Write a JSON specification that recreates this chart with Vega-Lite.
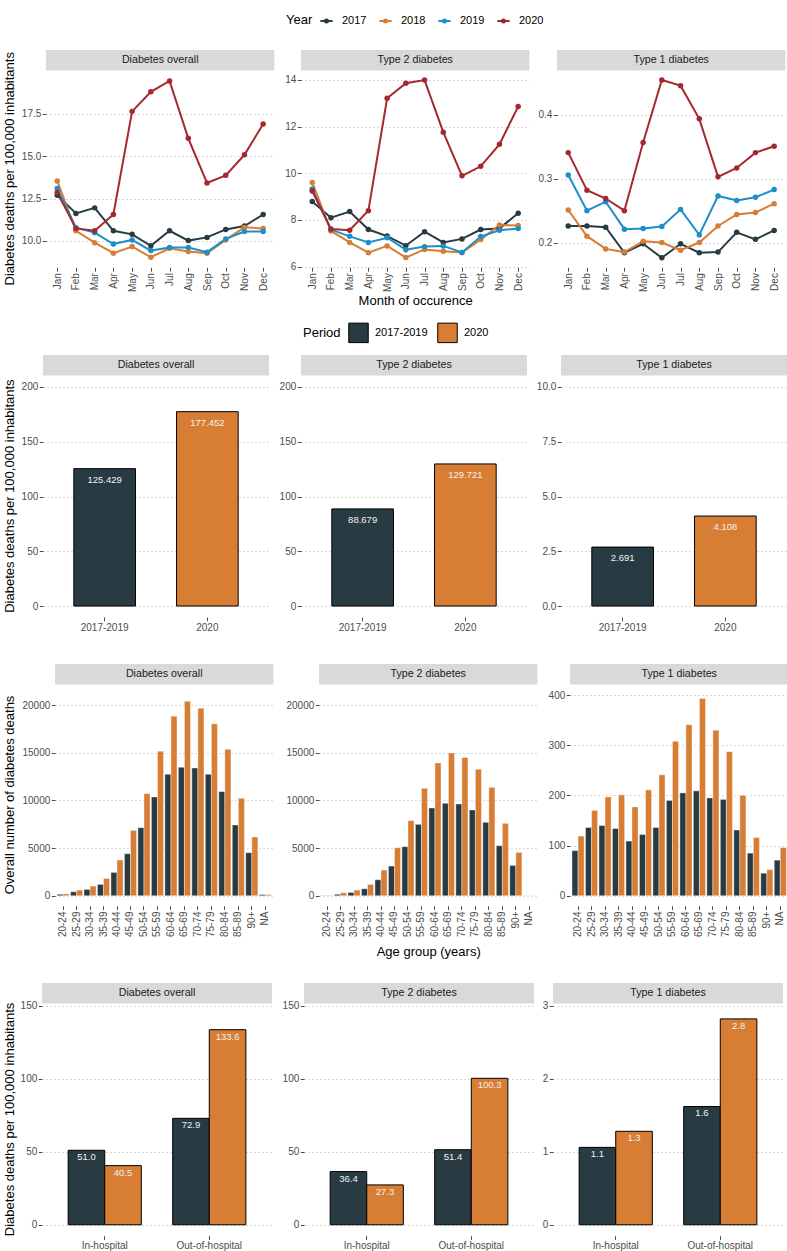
{
  "$schema": "https://vega.github.io/schema/vega-lite/v6.json",
  "background": "white",
  "padding": {"left": 3, "top": 13, "right": 0, "bottom": 0},
  "datasets": {
    "monthly": [
      {"Type":"Diabetes overall","Year":"2017","Month":"Jan","Rate":12.7},{"Type":"Diabetes overall","Year":"2017","Month":"Feb","Rate":11.62},{"Type":"Diabetes overall","Year":"2017","Month":"Mar","Rate":11.95},{"Type":"Diabetes overall","Year":"2017","Month":"Apr","Rate":10.6},{"Type":"Diabetes overall","Year":"2017","Month":"May","Rate":10.39},{"Type":"Diabetes overall","Year":"2017","Month":"Jun","Rate":9.71},{"Type":"Diabetes overall","Year":"2017","Month":"Jul","Rate":10.6},{"Type":"Diabetes overall","Year":"2017","Month":"Aug","Rate":10.02},{"Type":"Diabetes overall","Year":"2017","Month":"Sep","Rate":10.21},{"Type":"Diabetes overall","Year":"2017","Month":"Oct","Rate":10.68},{"Type":"Diabetes overall","Year":"2017","Month":"Nov","Rate":10.88},{"Type":"Diabetes overall","Year":"2017","Month":"Dec","Rate":11.56},
      {"Type":"Diabetes overall","Year":"2018","Month":"Jan","Rate":13.54},{"Type":"Diabetes overall","Year":"2018","Month":"Feb","Rate":10.6},{"Type":"Diabetes overall","Year":"2018","Month":"Mar","Rate":9.9},{"Type":"Diabetes overall","Year":"2018","Month":"Apr","Rate":9.28},{"Type":"Diabetes overall","Year":"2018","Month":"May","Rate":9.67},{"Type":"Diabetes overall","Year":"2018","Month":"Jun","Rate":9.04},{"Type":"Diabetes overall","Year":"2018","Month":"Jul","Rate":9.57},{"Type":"Diabetes overall","Year":"2018","Month":"Aug","Rate":9.38},{"Type":"Diabetes overall","Year":"2018","Month":"Sep","Rate":9.28},{"Type":"Diabetes overall","Year":"2018","Month":"Oct","Rate":10.06},{"Type":"Diabetes overall","Year":"2018","Month":"Nov","Rate":10.8},{"Type":"Diabetes overall","Year":"2018","Month":"Dec","Rate":10.74},
      {"Type":"Diabetes overall","Year":"2019","Month":"Jan","Rate":13.09},{"Type":"Diabetes overall","Year":"2019","Month":"Feb","Rate":10.78},{"Type":"Diabetes overall","Year":"2019","Month":"Mar","Rate":10.49},{"Type":"Diabetes overall","Year":"2019","Month":"Apr","Rate":9.82},{"Type":"Diabetes overall","Year":"2019","Month":"May","Rate":10.06},{"Type":"Diabetes overall","Year":"2019","Month":"Jun","Rate":9.43},{"Type":"Diabetes overall","Year":"2019","Month":"Jul","Rate":9.61},{"Type":"Diabetes overall","Year":"2019","Month":"Aug","Rate":9.61},{"Type":"Diabetes overall","Year":"2019","Month":"Sep","Rate":9.34},{"Type":"Diabetes overall","Year":"2019","Month":"Oct","Rate":10.12},{"Type":"Diabetes overall","Year":"2019","Month":"Nov","Rate":10.55},{"Type":"Diabetes overall","Year":"2019","Month":"Dec","Rate":10.55},
      {"Type":"Diabetes overall","Year":"2020","Month":"Jan","Rate":12.85},{"Type":"Diabetes overall","Year":"2020","Month":"Feb","Rate":10.74},{"Type":"Diabetes overall","Year":"2020","Month":"Mar","Rate":10.6},{"Type":"Diabetes overall","Year":"2020","Month":"Apr","Rate":11.56},{"Type":"Diabetes overall","Year":"2020","Month":"May","Rate":17.64},{"Type":"Diabetes overall","Year":"2020","Month":"Jun","Rate":18.79},{"Type":"Diabetes overall","Year":"2020","Month":"Jul","Rate":19.43},{"Type":"Diabetes overall","Year":"2020","Month":"Aug","Rate":16.05},{"Type":"Diabetes overall","Year":"2020","Month":"Sep","Rate":13.42},{"Type":"Diabetes overall","Year":"2020","Month":"Oct","Rate":13.87},{"Type":"Diabetes overall","Year":"2020","Month":"Nov","Rate":15.08},{"Type":"Diabetes overall","Year":"2020","Month":"Dec","Rate":16.89},
      {"Type":"Type 2 diabetes","Year":"2017","Month":"Jan","Rate":8.79},{"Type":"Type 2 diabetes","Year":"2017","Month":"Feb","Rate":8.1},{"Type":"Type 2 diabetes","Year":"2017","Month":"Mar","Rate":8.36},{"Type":"Type 2 diabetes","Year":"2017","Month":"Apr","Rate":7.59},{"Type":"Type 2 diabetes","Year":"2017","Month":"May","Rate":7.31},{"Type":"Type 2 diabetes","Year":"2017","Month":"Jun","Rate":6.9},{"Type":"Type 2 diabetes","Year":"2017","Month":"Jul","Rate":7.5},{"Type":"Type 2 diabetes","Year":"2017","Month":"Aug","Rate":7.04},{"Type":"Type 2 diabetes","Year":"2017","Month":"Sep","Rate":7.19},{"Type":"Type 2 diabetes","Year":"2017","Month":"Oct","Rate":7.59},{"Type":"Type 2 diabetes","Year":"2017","Month":"Nov","Rate":7.64},{"Type":"Type 2 diabetes","Year":"2017","Month":"Dec","Rate":8.29},
      {"Type":"Type 2 diabetes","Year":"2018","Month":"Jan","Rate":9.61},{"Type":"Type 2 diabetes","Year":"2018","Month":"Feb","Rate":7.53},{"Type":"Type 2 diabetes","Year":"2018","Month":"Mar","Rate":7.04},{"Type":"Type 2 diabetes","Year":"2018","Month":"Apr","Rate":6.6},{"Type":"Type 2 diabetes","Year":"2018","Month":"May","Rate":6.89},{"Type":"Type 2 diabetes","Year":"2018","Month":"Jun","Rate":6.39},{"Type":"Type 2 diabetes","Year":"2018","Month":"Jul","Rate":6.74},{"Type":"Type 2 diabetes","Year":"2018","Month":"Aug","Rate":6.66},{"Type":"Type 2 diabetes","Year":"2018","Month":"Sep","Rate":6.61},{"Type":"Type 2 diabetes","Year":"2018","Month":"Oct","Rate":7.16},{"Type":"Type 2 diabetes","Year":"2018","Month":"Nov","Rate":7.79},{"Type":"Type 2 diabetes","Year":"2018","Month":"Dec","Rate":7.76},
      {"Type":"Type 2 diabetes","Year":"2019","Month":"Jan","Rate":9.33},{"Type":"Type 2 diabetes","Year":"2019","Month":"Feb","Rate":7.59},{"Type":"Type 2 diabetes","Year":"2019","Month":"Mar","Rate":7.3},{"Type":"Type 2 diabetes","Year":"2019","Month":"Apr","Rate":7.04},{"Type":"Type 2 diabetes","Year":"2019","Month":"May","Rate":7.24},{"Type":"Type 2 diabetes","Year":"2019","Month":"Jun","Rate":6.73},{"Type":"Type 2 diabetes","Year":"2019","Month":"Jul","Rate":6.86},{"Type":"Type 2 diabetes","Year":"2019","Month":"Aug","Rate":6.89},{"Type":"Type 2 diabetes","Year":"2019","Month":"Sep","Rate":6.61},{"Type":"Type 2 diabetes","Year":"2019","Month":"Oct","Rate":7.29},{"Type":"Type 2 diabetes","Year":"2019","Month":"Nov","Rate":7.56},{"Type":"Type 2 diabetes","Year":"2019","Month":"Dec","Rate":7.64},
      {"Type":"Type 2 diabetes","Year":"2020","Month":"Jan","Rate":9.24},{"Type":"Type 2 diabetes","Year":"2020","Month":"Feb","Rate":7.61},{"Type":"Type 2 diabetes","Year":"2020","Month":"Mar","Rate":7.56},{"Type":"Type 2 diabetes","Year":"2020","Month":"Apr","Rate":8.4},{"Type":"Type 2 diabetes","Year":"2020","Month":"May","Rate":13.21},{"Type":"Type 2 diabetes","Year":"2020","Month":"Jun","Rate":13.86},{"Type":"Type 2 diabetes","Year":"2020","Month":"Jul","Rate":13.99},{"Type":"Type 2 diabetes","Year":"2020","Month":"Aug","Rate":11.76},{"Type":"Type 2 diabetes","Year":"2020","Month":"Sep","Rate":9.89},{"Type":"Type 2 diabetes","Year":"2020","Month":"Oct","Rate":10.3},{"Type":"Type 2 diabetes","Year":"2020","Month":"Nov","Rate":11.24},{"Type":"Type 2 diabetes","Year":"2020","Month":"Dec","Rate":12.86},
      {"Type":"Type 1 diabetes","Year":"2017","Month":"Jan","Rate":0.226},{"Type":"Type 1 diabetes","Year":"2017","Month":"Feb","Rate":0.226},{"Type":"Type 1 diabetes","Year":"2017","Month":"Mar","Rate":0.224},{"Type":"Type 1 diabetes","Year":"2017","Month":"Apr","Rate":0.184},{"Type":"Type 1 diabetes","Year":"2017","Month":"May","Rate":0.198},{"Type":"Type 1 diabetes","Year":"2017","Month":"Jun","Rate":0.176},{"Type":"Type 1 diabetes","Year":"2017","Month":"Jul","Rate":0.198},{"Type":"Type 1 diabetes","Year":"2017","Month":"Aug","Rate":0.184},{"Type":"Type 1 diabetes","Year":"2017","Month":"Sep","Rate":0.185},{"Type":"Type 1 diabetes","Year":"2017","Month":"Oct","Rate":0.216},{"Type":"Type 1 diabetes","Year":"2017","Month":"Nov","Rate":0.205},{"Type":"Type 1 diabetes","Year":"2017","Month":"Dec","Rate":0.219},
      {"Type":"Type 1 diabetes","Year":"2018","Month":"Jan","Rate":0.251},{"Type":"Type 1 diabetes","Year":"2018","Month":"Feb","Rate":0.21},{"Type":"Type 1 diabetes","Year":"2018","Month":"Mar","Rate":0.19},{"Type":"Type 1 diabetes","Year":"2018","Month":"Apr","Rate":0.185},{"Type":"Type 1 diabetes","Year":"2018","Month":"May","Rate":0.202},{"Type":"Type 1 diabetes","Year":"2018","Month":"Jun","Rate":0.2},{"Type":"Type 1 diabetes","Year":"2018","Month":"Jul","Rate":0.188},{"Type":"Type 1 diabetes","Year":"2018","Month":"Aug","Rate":0.2},{"Type":"Type 1 diabetes","Year":"2018","Month":"Sep","Rate":0.226},{"Type":"Type 1 diabetes","Year":"2018","Month":"Oct","Rate":0.244},{"Type":"Type 1 diabetes","Year":"2018","Month":"Nov","Rate":0.247},{"Type":"Type 1 diabetes","Year":"2018","Month":"Dec","Rate":0.261},
      {"Type":"Type 1 diabetes","Year":"2019","Month":"Jan","Rate":0.306},{"Type":"Type 1 diabetes","Year":"2019","Month":"Feb","Rate":0.25},{"Type":"Type 1 diabetes","Year":"2019","Month":"Mar","Rate":0.264},{"Type":"Type 1 diabetes","Year":"2019","Month":"Apr","Rate":0.221},{"Type":"Type 1 diabetes","Year":"2019","Month":"May","Rate":0.222},{"Type":"Type 1 diabetes","Year":"2019","Month":"Jun","Rate":0.225},{"Type":"Type 1 diabetes","Year":"2019","Month":"Jul","Rate":0.252},{"Type":"Type 1 diabetes","Year":"2019","Month":"Aug","Rate":0.212},{"Type":"Type 1 diabetes","Year":"2019","Month":"Sep","Rate":0.273},{"Type":"Type 1 diabetes","Year":"2019","Month":"Oct","Rate":0.266},{"Type":"Type 1 diabetes","Year":"2019","Month":"Nov","Rate":0.271},{"Type":"Type 1 diabetes","Year":"2019","Month":"Dec","Rate":0.283},
      {"Type":"Type 1 diabetes","Year":"2020","Month":"Jan","Rate":0.341},{"Type":"Type 1 diabetes","Year":"2020","Month":"Feb","Rate":0.282},{"Type":"Type 1 diabetes","Year":"2020","Month":"Mar","Rate":0.269},{"Type":"Type 1 diabetes","Year":"2020","Month":"Apr","Rate":0.25},{"Type":"Type 1 diabetes","Year":"2020","Month":"May","Rate":0.357},{"Type":"Type 1 diabetes","Year":"2020","Month":"Jun","Rate":0.455},{"Type":"Type 1 diabetes","Year":"2020","Month":"Jul","Rate":0.446},{"Type":"Type 1 diabetes","Year":"2020","Month":"Aug","Rate":0.394},{"Type":"Type 1 diabetes","Year":"2020","Month":"Sep","Rate":0.303},{"Type":"Type 1 diabetes","Year":"2020","Month":"Oct","Rate":0.317},{"Type":"Type 1 diabetes","Year":"2020","Month":"Nov","Rate":0.341},{"Type":"Type 1 diabetes","Year":"2020","Month":"Dec","Rate":0.351}
    ],
    "period": [
      {"Type":"Diabetes overall","Period":"2017-2019","Rate":125.429},{"Type":"Diabetes overall","Period":"2020","Rate":177.452},
      {"Type":"Type 2 diabetes","Period":"2017-2019","Rate":88.679},{"Type":"Type 2 diabetes","Period":"2020","Rate":129.721},
      {"Type":"Type 1 diabetes","Period":"2017-2019","Rate":2.691},{"Type":"Type 1 diabetes","Period":"2020","Rate":4.108}
    ],
    "age": [
      {"Type":"Diabetes overall","Period":"2017-2019","Age":"20-24","Deaths":150},{"Type":"Diabetes overall","Period":"2017-2019","Age":"25-29","Deaths":420},{"Type":"Diabetes overall","Period":"2017-2019","Age":"30-34","Deaths":665},{"Type":"Diabetes overall","Period":"2017-2019","Age":"35-39","Deaths":1190},{"Type":"Diabetes overall","Period":"2017-2019","Age":"40-44","Deaths":2450},{"Type":"Diabetes overall","Period":"2017-2019","Age":"45-49","Deaths":4410},{"Type":"Diabetes overall","Period":"2017-2019","Age":"50-54","Deaths":7140},{"Type":"Diabetes overall","Period":"2017-2019","Age":"55-59","Deaths":10360},{"Type":"Diabetes overall","Period":"2017-2019","Age":"60-64","Deaths":12740},{"Type":"Diabetes overall","Period":"2017-2019","Age":"65-69","Deaths":13475},{"Type":"Diabetes overall","Period":"2017-2019","Age":"70-74","Deaths":13405},{"Type":"Diabetes overall","Period":"2017-2019","Age":"75-79","Deaths":12740},{"Type":"Diabetes overall","Period":"2017-2019","Age":"80-84","Deaths":10920},{"Type":"Diabetes overall","Period":"2017-2019","Age":"85-89","Deaths":7420},{"Type":"Diabetes overall","Period":"2017-2019","Age":"90+","Deaths":4515},{"Type":"Diabetes overall","Period":"2017-2019","Age":"NA","Deaths":120},
      {"Type":"Diabetes overall","Period":"2020","Age":"20-24","Deaths":200},{"Type":"Diabetes overall","Period":"2020","Age":"25-29","Deaths":595},{"Type":"Diabetes overall","Period":"2020","Age":"30-34","Deaths":1015},{"Type":"Diabetes overall","Period":"2020","Age":"35-39","Deaths":1820},{"Type":"Diabetes overall","Period":"2020","Age":"40-44","Deaths":3745},{"Type":"Diabetes overall","Period":"2020","Age":"45-49","Deaths":6860},{"Type":"Diabetes overall","Period":"2020","Age":"50-54","Deaths":10710},{"Type":"Diabetes overall","Period":"2020","Age":"55-59","Deaths":15155},{"Type":"Diabetes overall","Period":"2020","Age":"60-64","Deaths":18830},{"Type":"Diabetes overall","Period":"2020","Age":"65-69","Deaths":20405},{"Type":"Diabetes overall","Period":"2020","Age":"70-74","Deaths":19670},{"Type":"Diabetes overall","Period":"2020","Age":"75-79","Deaths":18025},{"Type":"Diabetes overall","Period":"2020","Age":"80-84","Deaths":15365},{"Type":"Diabetes overall","Period":"2020","Age":"85-89","Deaths":10220},{"Type":"Diabetes overall","Period":"2020","Age":"90+","Deaths":6160},{"Type":"Diabetes overall","Period":"2020","Age":"NA","Deaths":130},
      {"Type":"Type 2 diabetes","Period":"2017-2019","Age":"20-24","Deaths":30},{"Type":"Type 2 diabetes","Period":"2017-2019","Age":"25-29","Deaths":150},{"Type":"Type 2 diabetes","Period":"2017-2019","Age":"30-34","Deaths":350},{"Type":"Type 2 diabetes","Period":"2017-2019","Age":"35-39","Deaths":735},{"Type":"Type 2 diabetes","Period":"2017-2019","Age":"40-44","Deaths":1680},{"Type":"Type 2 diabetes","Period":"2017-2019","Age":"45-49","Deaths":3115},{"Type":"Type 2 diabetes","Period":"2017-2019","Age":"50-54","Deaths":5145},{"Type":"Type 2 diabetes","Period":"2017-2019","Age":"55-59","Deaths":7490},{"Type":"Type 2 diabetes","Period":"2017-2019","Age":"60-64","Deaths":9205},{"Type":"Type 2 diabetes","Period":"2017-2019","Age":"65-69","Deaths":9695},{"Type":"Type 2 diabetes","Period":"2017-2019","Age":"70-74","Deaths":9625},{"Type":"Type 2 diabetes","Period":"2017-2019","Age":"75-79","Deaths":8995},{"Type":"Type 2 diabetes","Period":"2017-2019","Age":"80-84","Deaths":7700},{"Type":"Type 2 diabetes","Period":"2017-2019","Age":"85-89","Deaths":5250},{"Type":"Type 2 diabetes","Period":"2017-2019","Age":"90+","Deaths":3185},{"Type":"Type 2 diabetes","Period":"2017-2019","Age":"NA","Deaths":10},
      {"Type":"Type 2 diabetes","Period":"2020","Age":"20-24","Deaths":50},{"Type":"Type 2 diabetes","Period":"2020","Age":"25-29","Deaths":315},{"Type":"Type 2 diabetes","Period":"2020","Age":"30-34","Deaths":595},{"Type":"Type 2 diabetes","Period":"2020","Age":"35-39","Deaths":1190},{"Type":"Type 2 diabetes","Period":"2020","Age":"40-44","Deaths":2695},{"Type":"Type 2 diabetes","Period":"2020","Age":"45-49","Deaths":5040},{"Type":"Type 2 diabetes","Period":"2020","Age":"50-54","Deaths":7875},{"Type":"Type 2 diabetes","Period":"2020","Age":"55-59","Deaths":11270},{"Type":"Type 2 diabetes","Period":"2020","Age":"60-64","Deaths":13930},{"Type":"Type 2 diabetes","Period":"2020","Age":"65-69","Deaths":14980},{"Type":"Type 2 diabetes","Period":"2020","Age":"70-74","Deaths":14490},{"Type":"Type 2 diabetes","Period":"2020","Age":"75-79","Deaths":13265},{"Type":"Type 2 diabetes","Period":"2020","Age":"80-84","Deaths":11375},{"Type":"Type 2 diabetes","Period":"2020","Age":"85-89","Deaths":7595},{"Type":"Type 2 diabetes","Period":"2020","Age":"90+","Deaths":4550},{"Type":"Type 2 diabetes","Period":"2020","Age":"NA","Deaths":15},
      {"Type":"Type 1 diabetes","Period":"2017-2019","Age":"20-24","Deaths":90},{"Type":"Type 1 diabetes","Period":"2017-2019","Age":"25-29","Deaths":136},{"Type":"Type 1 diabetes","Period":"2017-2019","Age":"30-34","Deaths":140},{"Type":"Type 1 diabetes","Period":"2017-2019","Age":"35-39","Deaths":134},{"Type":"Type 1 diabetes","Period":"2017-2019","Age":"40-44","Deaths":109},{"Type":"Type 1 diabetes","Period":"2017-2019","Age":"45-49","Deaths":122},{"Type":"Type 1 diabetes","Period":"2017-2019","Age":"50-54","Deaths":136},{"Type":"Type 1 diabetes","Period":"2017-2019","Age":"55-59","Deaths":190},{"Type":"Type 1 diabetes","Period":"2017-2019","Age":"60-64","Deaths":205},{"Type":"Type 1 diabetes","Period":"2017-2019","Age":"65-69","Deaths":209},{"Type":"Type 1 diabetes","Period":"2017-2019","Age":"70-74","Deaths":195},{"Type":"Type 1 diabetes","Period":"2017-2019","Age":"75-79","Deaths":192},{"Type":"Type 1 diabetes","Period":"2017-2019","Age":"80-84","Deaths":131},{"Type":"Type 1 diabetes","Period":"2017-2019","Age":"85-89","Deaths":85},{"Type":"Type 1 diabetes","Period":"2017-2019","Age":"90+","Deaths":45},{"Type":"Type 1 diabetes","Period":"2017-2019","Age":"NA","Deaths":71},
      {"Type":"Type 1 diabetes","Period":"2020","Age":"20-24","Deaths":119},{"Type":"Type 1 diabetes","Period":"2020","Age":"25-29","Deaths":170},{"Type":"Type 1 diabetes","Period":"2020","Age":"30-34","Deaths":197},{"Type":"Type 1 diabetes","Period":"2020","Age":"35-39","Deaths":201},{"Type":"Type 1 diabetes","Period":"2020","Age":"40-44","Deaths":177},{"Type":"Type 1 diabetes","Period":"2020","Age":"45-49","Deaths":211},{"Type":"Type 1 diabetes","Period":"2020","Age":"50-54","Deaths":241},{"Type":"Type 1 diabetes","Period":"2020","Age":"55-59","Deaths":308},{"Type":"Type 1 diabetes","Period":"2020","Age":"60-64","Deaths":341},{"Type":"Type 1 diabetes","Period":"2020","Age":"65-69","Deaths":393},{"Type":"Type 1 diabetes","Period":"2020","Age":"70-74","Deaths":330},{"Type":"Type 1 diabetes","Period":"2020","Age":"75-79","Deaths":287},{"Type":"Type 1 diabetes","Period":"2020","Age":"80-84","Deaths":200},{"Type":"Type 1 diabetes","Period":"2020","Age":"85-89","Deaths":116},{"Type":"Type 1 diabetes","Period":"2020","Age":"90+","Deaths":52},{"Type":"Type 1 diabetes","Period":"2020","Age":"NA","Deaths":96}
    ],
    "place": [
      {"Type":"Diabetes overall","Place":"In-hospital","Period":"2017-2019","Rate":51.0},{"Type":"Diabetes overall","Place":"In-hospital","Period":"2020","Rate":40.5},{"Type":"Diabetes overall","Place":"Out-of-hospital","Period":"2017-2019","Rate":72.9},{"Type":"Diabetes overall","Place":"Out-of-hospital","Period":"2020","Rate":133.6},
      {"Type":"Type 2 diabetes","Place":"In-hospital","Period":"2017-2019","Rate":36.4},{"Type":"Type 2 diabetes","Place":"In-hospital","Period":"2020","Rate":27.3},{"Type":"Type 2 diabetes","Place":"Out-of-hospital","Period":"2017-2019","Rate":51.4},{"Type":"Type 2 diabetes","Place":"Out-of-hospital","Period":"2020","Rate":100.3},
      {"Type":"Type 1 diabetes","Place":"In-hospital","Period":"2017-2019","Rate":1.06},{"Type":"Type 1 diabetes","Place":"In-hospital","Period":"2020","Rate":1.28},{"Type":"Type 1 diabetes","Place":"Out-of-hospital","Period":"2017-2019","Rate":1.62},{"Type":"Type 1 diabetes","Place":"Out-of-hospital","Period":"2020","Rate":2.82}
    ]
  },
  "columns": 1,
  "align": "none",
  "spacing": 0,
  "resolve": {"scale": {"color": "independent", "xOffset": "independent"}, "legend": {"color": "independent"}},
  "concat": [
    {
      "spacing": 2,
      "resolve": {"scale": {"xOffset": "independent"}},
      "hconcat": [
        {"width": 12, "height": 271.7, "data": {"values": [{"Title": "Diabetes deaths per 100,000 inhabitants"}]}, "mark": {"type": "text", "angle": 270, "fontSize": 13, "color": "#000000", "align": "center", "baseline": "middle"}, "encoding": {"text": {"field": "Title"}, "x": {"datum": 0.5, "type": "quantitative", "scale": {"domain": [0, 1]}, "axis": null}, "y": {"datum": 0.5628, "type": "quantitative", "scale": {"domain": [0, 1]}, "axis": null}}},
        {"spacing": 0, "bounds": "flush", "vconcat": [
          {"width": 228.4, "height": 20.6, "view": {"fill": "#D9D9D9", "stroke": null}, "data": {"values": [{"Type": "Diabetes overall"}]}, "mark": {"type": "text", "fontSize": 10.7, "color": "#1A1A1A"}, "encoding": {"text": {"field": "Type"}, "x": {"datum": 0.5, "type": "quantitative", "scale": {"domain": [0, 1]}, "axis": null}, "y": {"datum": 0.5, "type": "quantitative", "scale": {"domain": [0, 1]}, "axis": null}}},
          {"width": 228.4, "height": 196.4, "data": {"name": "monthly"}, "transform": [{"filter": "datum.Type === 'Diabetes overall'"}],
           "mark": {"type": "line", "strokeWidth": 2, "point": {"filled": true, "size": 30}},
           "encoding": {
             "x": {"field": "Month", "type": "ordinal", "sort": ["Jan","Feb","Mar","Apr","May","Jun","Jul","Aug","Sep","Oct","Nov","Dec"], "scale": {"type": "point", "padding": 0.6}, "axis": {"title": null, "labelAngle": 270, "minExtent": 23, "maxExtent": 23}},
             "y": {"field": "Rate", "type": "quantitative", "scale": {"domain": [8.44, 20.02], "nice": false, "zero": false}, "axis": {"values": [10, 12.5, 15, 17.5], "format": ".1f", "title": null, "minExtent": 25.9, "maxExtent": 25.9}},
             "color": {"field": "Year", "type": "nominal", "scale": {"domain": ["2017","2018","2019","2020"], "range": ["#283B42","#D77D34","#1B8FC9","#A5282E"]}, "legend": {"title": "Year", "orient": "none", "legendX": 282, "legendY": -37, "direction": "horizontal", "titleOrient": "left", "padding": 0, "symbolType": "M-1,0L1,0M-0.25,0A0.25,0.25,0,1,1,0.25,0A0.25,0.25,0,1,1,-0.25,0", "symbolStrokeWidth": 2, "symbolSize": 150, "labelOffset": 8, "columnPadding": 8, "titlePadding": 6}}
           }}
        ]},
        {"spacing": 0, "bounds": "flush", "vconcat": [
          {"width": 228.4, "height": 20.6, "view": {"fill": "#D9D9D9", "stroke": null}, "data": {"values": [{"Type": "Type 2 diabetes"}]}, "mark": {"type": "text", "fontSize": 10.7, "color": "#1A1A1A"}, "encoding": {"text": {"field": "Type"}, "x": {"datum": 0.5, "type": "quantitative", "scale": {"domain": [0, 1]}, "axis": null}, "y": {"datum": 0.5, "type": "quantitative", "scale": {"domain": [0, 1]}, "axis": null}}},
          {"width": 228.4, "height": 196.4, "data": {"name": "monthly"}, "transform": [{"filter": "datum.Type === 'Type 2 diabetes'"}],
           "mark": {"type": "line", "strokeWidth": 2, "point": {"filled": true, "size": 30}},
           "encoding": {
             "x": {"field": "Month", "type": "ordinal", "sort": ["Jan","Feb","Mar","Apr","May","Jun","Jul","Aug","Sep","Oct","Nov","Dec"], "scale": {"type": "point", "padding": 0.6}, "axis": {"title": "Month of occurence", "titlePadding": 4.5, "labelAngle": 270, "minExtent": 23, "maxExtent": 23}},
             "y": {"field": "Rate", "type": "quantitative", "scale": {"domain": [5.97, 14.38], "nice": false, "zero": false}, "axis": {"values": [6, 8, 10, 12, 14], "format": "d", "title": null, "minExtent": 23.6, "maxExtent": 23.6}},
             "color": {"field": "Year", "type": "nominal", "scale": {"domain": ["2017","2018","2019","2020"], "range": ["#283B42","#D77D34","#1B8FC9","#A5282E"]}, "legend": {"title": "Year", "orient": "none", "legendX": 282, "legendY": -37, "direction": "horizontal", "titleOrient": "left", "padding": 0, "symbolType": "M-1,0L1,0M-0.25,0A0.25,0.25,0,1,1,0.25,0A0.25,0.25,0,1,1,-0.25,0", "symbolStrokeWidth": 2, "symbolSize": 150, "labelOffset": 8, "columnPadding": 8, "titlePadding": 6}}
           }}
        ]},
        {"spacing": 0, "bounds": "flush", "vconcat": [
          {"width": 228.4, "height": 20.6, "view": {"fill": "#D9D9D9", "stroke": null}, "data": {"values": [{"Type": "Type 1 diabetes"}]}, "mark": {"type": "text", "fontSize": 10.7, "color": "#1A1A1A"}, "encoding": {"text": {"field": "Type"}, "x": {"datum": 0.5, "type": "quantitative", "scale": {"domain": [0, 1]}, "axis": null}, "y": {"datum": 0.5, "type": "quantitative", "scale": {"domain": [0, 1]}, "axis": null}}},
          {"width": 228.4, "height": 196.4, "data": {"name": "monthly"}, "transform": [{"filter": "datum.Type === 'Type 1 diabetes'"}],
           "mark": {"type": "line", "strokeWidth": 2, "point": {"filled": true, "size": 30}},
           "encoding": {
             "x": {"field": "Month", "type": "ordinal", "sort": ["Jan","Feb","Mar","Apr","May","Jun","Jul","Aug","Sep","Oct","Nov","Dec"], "scale": {"type": "point", "padding": 0.6}, "axis": {"title": null, "labelAngle": 270, "minExtent": 23, "maxExtent": 23}},
             "y": {"field": "Rate", "type": "quantitative", "scale": {"domain": [0.161, 0.469], "nice": false, "zero": false}, "axis": {"values": [0.2, 0.3, 0.4], "format": ".1f", "title": null, "minExtent": 24.2, "maxExtent": 24.2}},
             "color": {"field": "Year", "type": "nominal", "scale": {"domain": ["2017","2018","2019","2020"], "range": ["#283B42","#D77D34","#1B8FC9","#A5282E"]}, "legend": {"title": "Year", "orient": "none", "legendX": 282, "legendY": -37, "direction": "horizontal", "titleOrient": "left", "padding": 0, "symbolType": "M-1,0L1,0M-0.25,0A0.25,0.25,0,1,1,0.25,0A0.25,0.25,0,1,1,-0.25,0", "symbolStrokeWidth": 2, "symbolSize": 150, "labelOffset": 8, "columnPadding": 8, "titlePadding": 6}}
           }}
        ]}
      ]
    },
    {
      "spacing": 2,
      "resolve": {"scale": {"xOffset": "independent"}},
      "hconcat": [
        {"width": 12, "height": 261.6, "data": {"values": [{"Title": "Diabetes deaths per 100,000 inhabitants"}]}, "mark": {"type": "text", "angle": 270, "fontSize": 13, "color": "#000000", "align": "center", "baseline": "middle"}, "encoding": {"text": {"field": "Title"}, "x": {"datum": 0.5, "type": "quantitative", "scale": {"domain": [0, 1]}, "axis": null}, "y": {"datum": 0.4606, "type": "quantitative", "scale": {"domain": [0, 1]}, "axis": null}}},
        {"spacing": 0, "bounds": "flush", "vconcat": [
          {"width": 226, "height": 20.6, "view": {"fill": "#D9D9D9", "stroke": null}, "data": {"values": [{"Type": "Diabetes overall"}]}, "mark": {"type": "text", "fontSize": 10.7, "color": "#1A1A1A"}, "encoding": {"text": {"field": "Type"}, "x": {"datum": 0.5, "type": "quantitative", "scale": {"domain": [0, 1]}, "axis": null}, "y": {"datum": 0.5, "type": "quantitative", "scale": {"domain": [0, 1]}, "axis": null}}},
          {"width": 226, "height": 241, "data": {"name": "period"}, "transform": [{"filter": "datum.Type === 'Diabetes overall'"}],
           "encoding": {
             "x": {"field": "Period", "type": "nominal", "sort": ["2017-2019","2020"], "scale": {"paddingInner": 0.4, "paddingOuter": 0.3}, "axis": {"title": null, "labelAngle": 0, "minExtent": 46.8, "maxExtent": 46.8}},
             "y": {"field": "Rate", "type": "quantitative", "scale": {"domain": [-10, 210], "nice": false}, "axis": {"values": [0, 50, 100, 150, 200], "title": null, "minExtent": 22.1, "maxExtent": 22.1}}
           },
           "layer": [
             {"mark": {"type": "bar", "stroke": "black", "strokeWidth": 1}, "encoding": {"color": {"field": "Period", "type": "nominal", "scale": {"domain": ["2017-2019","2020"], "range": ["#283B42","#D77D34"]}, "legend": {"title": "Period", "orient": "top", "direction": "horizontal", "titleOrient": "left", "offset": 9.9, "symbolType": "square", "symbolSize": 380, "symbolStrokeColor": "black", "symbolStrokeWidth": 1, "labelOffset": 6, "columnPadding": 7, "titlePadding": 7}}}},
             {"mark": {"type": "text", "baseline": "middle", "dy": 11, "fontSize": 9.5, "color": "#F2F2F2"}, "encoding": {"text": {"field": "Rate", "type": "quantitative", "format": ".3f"}}}
           ]}
        ]},
        {"spacing": 0, "bounds": "flush", "vconcat": [
          {"width": 226, "height": 20.6, "view": {"fill": "#D9D9D9", "stroke": null}, "data": {"values": [{"Type": "Type 2 diabetes"}]}, "mark": {"type": "text", "fontSize": 10.7, "color": "#1A1A1A"}, "encoding": {"text": {"field": "Type"}, "x": {"datum": 0.5, "type": "quantitative", "scale": {"domain": [0, 1]}, "axis": null}, "y": {"datum": 0.5, "type": "quantitative", "scale": {"domain": [0, 1]}, "axis": null}}},
          {"width": 226, "height": 241, "data": {"name": "period"}, "transform": [{"filter": "datum.Type === 'Type 2 diabetes'"}],
           "encoding": {
             "x": {"field": "Period", "type": "nominal", "sort": ["2017-2019","2020"], "scale": {"paddingInner": 0.4, "paddingOuter": 0.3}, "axis": {"title": null, "labelAngle": 0, "minExtent": 46.8, "maxExtent": 46.8}},
             "y": {"field": "Rate", "type": "quantitative", "scale": {"domain": [-10, 210], "nice": false}, "axis": {"values": [0, 50, 100, 150, 200], "title": null, "minExtent": 29.2, "maxExtent": 29.2}}
           },
           "layer": [
             {"mark": {"type": "bar", "stroke": "black", "strokeWidth": 1}, "encoding": {"color": {"field": "Period", "type": "nominal", "scale": {"domain": ["2017-2019","2020"], "range": ["#283B42","#D77D34"]}, "legend": {"title": "Period", "orient": "top", "direction": "horizontal", "titleOrient": "left", "offset": 9.9, "symbolType": "square", "symbolSize": 380, "symbolStrokeColor": "black", "symbolStrokeWidth": 1, "labelOffset": 6, "columnPadding": 7, "titlePadding": 7}}}},
             {"mark": {"type": "text", "baseline": "middle", "dy": 11, "fontSize": 9.5, "color": "#F2F2F2"}, "encoding": {"text": {"field": "Rate", "type": "quantitative", "format": ".3f"}}}
           ]}
        ]},
        {"spacing": 0, "bounds": "flush", "vconcat": [
          {"width": 226, "height": 20.6, "view": {"fill": "#D9D9D9", "stroke": null}, "data": {"values": [{"Type": "Type 1 diabetes"}]}, "mark": {"type": "text", "fontSize": 10.7, "color": "#1A1A1A"}, "encoding": {"text": {"field": "Type"}, "x": {"datum": 0.5, "type": "quantitative", "scale": {"domain": [0, 1]}, "axis": null}, "y": {"datum": 0.5, "type": "quantitative", "scale": {"domain": [0, 1]}, "axis": null}}},
          {"width": 226, "height": 241, "data": {"name": "period"}, "transform": [{"filter": "datum.Type === 'Type 1 diabetes'"}],
           "encoding": {
             "x": {"field": "Period", "type": "nominal", "sort": ["2017-2019","2020"], "scale": {"paddingInner": 0.4, "paddingOuter": 0.3}, "axis": {"title": null, "labelAngle": 0, "minExtent": 46.8, "maxExtent": 46.8}},
             "y": {"field": "Rate", "type": "quantitative", "scale": {"domain": [-0.5, 10.5], "nice": false}, "axis": {"values": [0, 2.5, 5, 7.5, 10], "format": ".1f", "title": null, "minExtent": 31.5, "maxExtent": 31.5}}
           },
           "layer": [
             {"mark": {"type": "bar", "stroke": "black", "strokeWidth": 1}, "encoding": {"color": {"field": "Period", "type": "nominal", "scale": {"domain": ["2017-2019","2020"], "range": ["#283B42","#D77D34"]}, "legend": {"title": "Period", "orient": "top", "direction": "horizontal", "titleOrient": "left", "offset": 9.9, "symbolType": "square", "symbolSize": 380, "symbolStrokeColor": "black", "symbolStrokeWidth": 1, "labelOffset": 6, "columnPadding": 7, "titlePadding": 7}}}},
             {"mark": {"type": "text", "baseline": "middle", "dy": 11, "fontSize": 9.5, "color": "#F2F2F2"}, "encoding": {"text": {"field": "Rate", "type": "quantitative", "format": ".3f"}}}
           ]}
        ]}
      ]
    },
    {
      "spacing": 2,
      "resolve": {"scale": {"xOffset": "independent"}},
      "hconcat": [
        {"width": 12, "height": 241.4, "data": {"values": [{"Title": "Overall number of diabetes deaths"}]}, "mark": {"type": "text", "angle": 270, "fontSize": 13, "color": "#000000", "align": "center", "baseline": "middle"}, "encoding": {"text": {"field": "Title"}, "x": {"datum": 0.5, "type": "quantitative", "scale": {"domain": [0, 1]}, "axis": null}, "y": {"datum": 0.4573, "type": "quantitative", "scale": {"domain": [0, 1]}, "axis": null}}},
        {"spacing": 0, "bounds": "flush", "vconcat": [
          {"width": 218.4, "height": 20.6, "view": {"fill": "#D9D9D9", "stroke": null}, "data": {"values": [{"Type": "Diabetes overall"}]}, "mark": {"type": "text", "fontSize": 10.7, "color": "#1A1A1A"}, "encoding": {"text": {"field": "Type"}, "x": {"datum": 0.5, "type": "quantitative", "scale": {"domain": [0, 1]}, "axis": null}, "y": {"datum": 0.5, "type": "quantitative", "scale": {"domain": [0, 1]}, "axis": null}}},
          {"width": 218.4, "height": 220.8, "data": {"name": "age"}, "transform": [{"filter": "datum.Type === 'Diabetes overall'"}],
           "mark": {"type": "bar", "stroke": "white", "strokeWidth": 0.4},
           "encoding": {
             "x": {"field": "Age", "type": "ordinal", "sort": ["20-24","25-29","30-34","35-39","40-44","45-49","50-54","55-59","60-64","65-69","70-74","75-79","80-84","85-89","90+","NA"], "scale": {"paddingInner": 0.1, "paddingOuter": 0.15}, "axis": {"title": null, "labelAngle": 270, "minExtent": 76.3, "maxExtent": 76.3}},
             "xOffset": {"field": "Period", "sort": ["2017-2019","2020"]},
             "y": {"field": "Deaths", "type": "quantitative", "scale": {"domain": [-1052, 22098], "nice": false}, "axis": {"values": [0, 5000, 10000, 15000, 20000], "format": "d", "title": null, "minExtent": 34.9, "maxExtent": 34.9}},
             "color": {"field": "Period", "type": "nominal", "scale": {"domain": ["2017-2019","2020"], "range": ["#283B42","#D77D34"]}, "legend": null}
           }}
        ]},
        {"spacing": 0, "bounds": "flush", "vconcat": [
          {"width": 218.4, "height": 20.6, "view": {"fill": "#D9D9D9", "stroke": null}, "data": {"values": [{"Type": "Type 2 diabetes"}]}, "mark": {"type": "text", "fontSize": 10.7, "color": "#1A1A1A"}, "encoding": {"text": {"field": "Type"}, "x": {"datum": 0.5, "type": "quantitative", "scale": {"domain": [0, 1]}, "axis": null}, "y": {"datum": 0.5, "type": "quantitative", "scale": {"domain": [0, 1]}, "axis": null}}},
          {"width": 218.4, "height": 220.8, "data": {"name": "age"}, "transform": [{"filter": "datum.Type === 'Type 2 diabetes'"}],
           "mark": {"type": "bar", "stroke": "white", "strokeWidth": 0.4},
           "encoding": {
             "x": {"field": "Age", "type": "ordinal", "sort": ["20-24","25-29","30-34","35-39","40-44","45-49","50-54","55-59","60-64","65-69","70-74","75-79","80-84","85-89","90+","NA"], "scale": {"paddingInner": 0.1, "paddingOuter": 0.15}, "axis": {"title": "Age group (years)", "titlePadding": 8.5, "labelAngle": 270, "minExtent": 30.8, "maxExtent": 30.8}},
             "xOffset": {"field": "Period", "sort": ["2017-2019","2020"]},
             "y": {"field": "Deaths", "type": "quantitative", "scale": {"domain": [-1052, 22098], "nice": false}, "axis": {"values": [0, 5000, 10000, 15000, 20000], "format": "d", "title": null, "minExtent": 42.2, "maxExtent": 42.2}},
             "color": {"field": "Period", "type": "nominal", "scale": {"domain": ["2017-2019","2020"], "range": ["#283B42","#D77D34"]}, "legend": null}
           }}
        ]},
        {"spacing": 0, "bounds": "flush", "vconcat": [
          {"width": 218.4, "height": 20.6, "view": {"fill": "#D9D9D9", "stroke": null}, "data": {"values": [{"Type": "Type 1 diabetes"}]}, "mark": {"type": "text", "fontSize": 10.7, "color": "#1A1A1A"}, "encoding": {"text": {"field": "Type"}, "x": {"datum": 0.5, "type": "quantitative", "scale": {"domain": [0, 1]}, "axis": null}, "y": {"datum": 0.5, "type": "quantitative", "scale": {"domain": [0, 1]}, "axis": null}}},
          {"width": 218.4, "height": 220.8, "data": {"name": "age"}, "transform": [{"filter": "datum.Type === 'Type 1 diabetes'"}],
           "mark": {"type": "bar", "stroke": "white", "strokeWidth": 0.4},
           "encoding": {
             "x": {"field": "Age", "type": "ordinal", "sort": ["20-24","25-29","30-34","35-39","40-44","45-49","50-54","55-59","60-64","65-69","70-74","75-79","80-84","85-89","90+","NA"], "scale": {"paddingInner": 0.1, "paddingOuter": 0.15}, "axis": {"title": null, "labelAngle": 270, "minExtent": 76.3, "maxExtent": 76.3}},
             "xOffset": {"field": "Period", "sort": ["2017-2019","2020"]},
             "y": {"field": "Deaths", "type": "quantitative", "scale": {"domain": [-20, 420], "nice": false}, "axis": {"values": [0, 100, 200, 300, 400], "format": "d", "title": null, "minExtent": 29.6, "maxExtent": 29.6}},
             "color": {"field": "Period", "type": "nominal", "scale": {"domain": ["2017-2019","2020"], "range": ["#283B42","#D77D34"]}, "legend": null}
           }}
        ]}
      ]
    },
    {
      "spacing": 2,
      "resolve": {"scale": {"xOffset": "independent"}},
      "hconcat": [
        {"width": 12, "height": 252.3, "data": {"values": [{"Title": "Diabetes deaths per 100,000 inhabitants"}]}, "mark": {"type": "text", "angle": 270, "fontSize": 13, "color": "#000000", "align": "center", "baseline": "middle"}, "encoding": {"text": {"field": "Title"}, "x": {"datum": 0.5, "type": "quantitative", "scale": {"domain": [0, 1]}, "axis": null}, "y": {"datum": 0.4592, "type": "quantitative", "scale": {"domain": [0, 1]}, "axis": null}}},
        {"spacing": 0, "bounds": "flush", "vconcat": [
          {"width": 230, "height": 20.6, "view": {"fill": "#D9D9D9", "stroke": null}, "data": {"values": [{"Type": "Diabetes overall"}]}, "mark": {"type": "text", "fontSize": 10.7, "color": "#1A1A1A"}, "encoding": {"text": {"field": "Type"}, "x": {"datum": 0.5, "type": "quantitative", "scale": {"domain": [0, 1]}, "axis": null}, "y": {"datum": 0.5, "type": "quantitative", "scale": {"domain": [0, 1]}, "axis": null}}},
          {"width": 230, "height": 231.7, "data": {"name": "place"}, "transform": [{"filter": "datum.Type === 'Diabetes overall'"}],
           "encoding": {
             "x": {"field": "Place", "type": "nominal", "sort": ["In-hospital","Out-of-hospital"], "scale": {"paddingInner": 0.3, "paddingOuter": 0.25}, "axis": {"title": null, "labelAngle": 0}},
             "xOffset": {"field": "Period", "sort": ["2017-2019","2020"]},
             "y": {"field": "Rate", "type": "quantitative", "scale": {"domain": [-7.5, 151.2], "nice": false}, "axis": {"values": [0, 50, 100, 150], "title": null, "minExtent": 21.1, "maxExtent": 21.1}}
           },
           "layer": [
             {"mark": {"type": "bar", "stroke": "black", "strokeWidth": 1}, "encoding": {"color": {"field": "Period", "type": "nominal", "scale": {"domain": ["2017-2019","2020"], "range": ["#283B42","#D77D34"]}, "legend": null}}},
             {"mark": {"type": "text", "baseline": "middle", "dy": 7, "fontSize": 9.5, "color": "#F2F2F2"}, "encoding": {"text": {"field": "Rate", "type": "quantitative", "format": ".1f"}}}
           ]}
        ]},
        {"spacing": 0, "bounds": "flush", "vconcat": [
          {"width": 230, "height": 20.6, "view": {"fill": "#D9D9D9", "stroke": null}, "data": {"values": [{"Type": "Type 2 diabetes"}]}, "mark": {"type": "text", "fontSize": 10.7, "color": "#1A1A1A"}, "encoding": {"text": {"field": "Type"}, "x": {"datum": 0.5, "type": "quantitative", "scale": {"domain": [0, 1]}, "axis": null}, "y": {"datum": 0.5, "type": "quantitative", "scale": {"domain": [0, 1]}, "axis": null}}},
          {"width": 230, "height": 231.7, "data": {"name": "place"}, "transform": [{"filter": "datum.Type === 'Type 2 diabetes'"}],
           "encoding": {
             "x": {"field": "Place", "type": "nominal", "sort": ["In-hospital","Out-of-hospital"], "scale": {"paddingInner": 0.3, "paddingOuter": 0.25}, "axis": {"title": null, "labelAngle": 0}},
             "xOffset": {"field": "Period", "sort": ["2017-2019","2020"]},
             "y": {"field": "Rate", "type": "quantitative", "scale": {"domain": [-7.5, 151.2], "nice": false}, "axis": {"values": [0, 50, 100, 150], "title": null, "minExtent": 30, "maxExtent": 30}}
           },
           "layer": [
             {"mark": {"type": "bar", "stroke": "black", "strokeWidth": 1}, "encoding": {"color": {"field": "Period", "type": "nominal", "scale": {"domain": ["2017-2019","2020"], "range": ["#283B42","#D77D34"]}, "legend": null}}},
             {"mark": {"type": "text", "baseline": "middle", "dy": 7, "fontSize": 9.5, "color": "#F2F2F2"}, "encoding": {"text": {"field": "Rate", "type": "quantitative", "format": ".1f"}}}
           ]}
        ]},
        {"spacing": 0, "bounds": "flush", "vconcat": [
          {"width": 230, "height": 20.6, "view": {"fill": "#D9D9D9", "stroke": null}, "data": {"values": [{"Type": "Type 1 diabetes"}]}, "mark": {"type": "text", "fontSize": 10.7, "color": "#1A1A1A"}, "encoding": {"text": {"field": "Type"}, "x": {"datum": 0.5, "type": "quantitative", "scale": {"domain": [0, 1]}, "axis": null}, "y": {"datum": 0.5, "type": "quantitative", "scale": {"domain": [0, 1]}, "axis": null}}},
          {"width": 230, "height": 231.7, "data": {"name": "place"}, "transform": [{"filter": "datum.Type === 'Type 1 diabetes'"}],
           "encoding": {
             "x": {"field": "Place", "type": "nominal", "sort": ["In-hospital","Out-of-hospital"], "scale": {"paddingInner": 0.3, "paddingOuter": 0.25}, "axis": {"title": null, "labelAngle": 0}},
             "xOffset": {"field": "Period", "sort": ["2017-2019","2020"]},
             "y": {"field": "Rate", "type": "quantitative", "scale": {"domain": [-0.15, 3.024], "nice": false}, "axis": {"values": [0, 1, 2, 3], "format": "d", "title": null, "minExtent": 17, "maxExtent": 17}}
           },
           "layer": [
             {"mark": {"type": "bar", "stroke": "black", "strokeWidth": 1}, "encoding": {"color": {"field": "Period", "type": "nominal", "scale": {"domain": ["2017-2019","2020"], "range": ["#283B42","#D77D34"]}, "legend": null}}},
             {"mark": {"type": "text", "baseline": "middle", "dy": 7, "fontSize": 9.5, "color": "#F2F2F2"}, "encoding": {"text": {"field": "Rate", "type": "quantitative", "format": ".1f"}}}
           ]}
        ]}
      ]
    }
  ],
  "config": {
    "font": "Liberation Sans",
    "view": {"stroke": null},
    "axis": {"domain": false, "tickColor": "#333333", "tickSize": 3.7, "tickWidth": 0.9, "labelColor": "#4D4D4D", "labelFontSize": 10, "labelPadding": 1.5, "titleFontSize": 13, "titleFontWeight": "normal", "titleColor": "#000000", "gridColor": "#B3B3B3", "gridDash": [1, 3], "gridWidth": 1},
    "axisX": {"grid": false},
    "legend": {"layout": {"top": {"anchor": "middle"}}, "titleFontSize": 13, "titleFontWeight": "normal", "titleColor": "#000000", "labelFontSize": 11, "labelColor": "#000000"}
  }
}
